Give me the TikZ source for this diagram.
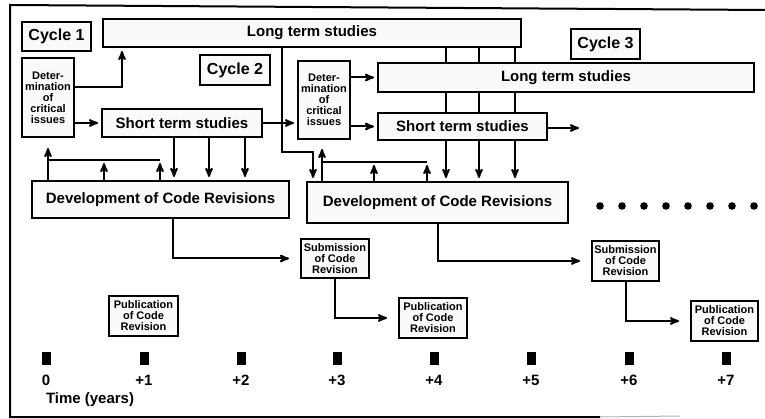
\documentclass[tikz,border=0pt]{standalone}
\usepackage{fontspec}
\setmainfont{Liberation Sans}
\usetikzlibrary{arrows}
\tikzset{
  box/.style={draw, fill=gray!4, inner sep=0pt, align=center},
  cyctxt/.style={font=\fontsize{16}{18}\selectfont\bfseries},
  bigtxt/.style={font=\fontsize{15}{17}\selectfont\bfseries},
  smalltxt/.style={font=\fontsize{11}{11}\selectfont\bfseries},
  arr/.style={-stealth', shorten >=3pt},
  gap/.style={-stealth', shorten >=11pt},
}

\begin{document}
\begin{tikzpicture}[x=1pt, y=-1pt, line width=2pt]
  \useasboundingbox (0,0) rectangle (765,419);
  \draw (765,10) -- (10,5) -- (10,417) -- (600,417);
  \draw[gray!60, line width=1pt] (600,417) -- (680,416);

  \node[box, cyctxt, minimum width=69pt, minimum height=29pt] (cyc1) at (56.5,36.5) {Cycle 1};
  \node[box, cyctxt, minimum width=70pt, minimum height=30pt] (cyc2) at (235,70) {Cycle 2};
  \node[box, cyctxt, minimum width=69pt, minimum height=30pt] (cyc3) at (605.5,44) {Cycle 3};

  \node[box, bigtxt, minimum width=418pt, minimum height=28pt] (lt1) at (312,33) {Long term studies};
  \node[box, bigtxt, minimum width=376pt, minimum height=29pt] (lt2) at (566,77.5) {Long term studies};
  \node[box, smalltxt, minimum width=52pt, minimum height=79pt] (det1) at (48,97.5) {Deter-\\mination\\of\\critical\\issues};
  \node[box, smalltxt, minimum width=52pt, minimum height=78pt] (det2) at (324,100) {Deter-\\mination\\of\\critical\\issues};
  \node[box, bigtxt, minimum width=160pt, minimum height=28pt] (st1) at (182,123) {Short term studies};
  \node[box, bigtxt, minimum width=169pt, minimum height=27pt] (st2) at (462.5,126.5) {Short term studies};
  \node[box, bigtxt, minimum width=257pt, minimum height=37pt] (dev1) at (160.5,199.5) {Development of Code Revisions};
  \node[box, bigtxt, minimum width=261pt, minimum height=41pt] (dev2) at (437.5,202.5) {Development of Code Revisions};

  \node[box, smalltxt, minimum width=68pt, minimum height=39pt] (sub1) at (335,258.5) {Submission\\of Code\\Revision};
  \node[box, smalltxt, minimum width=67pt, minimum height=40pt] (sub2) at (625.5,261) {Submission\\of Code\\Revision};
  \node[box, smalltxt, minimum width=69pt, minimum height=40pt] (pub1) at (143.5,316) {Publication\\of Code\\Revision};
  \node[box, smalltxt, minimum width=68pt, minimum height=40pt] (pub2) at (433,318) {Publication\\of Code\\Revision};
  \node[box, smalltxt, minimum width=67pt, minimum height=40pt] (pub3) at (724.5,321) {Publication\\of Code\\Revision};
  \coordinate (st2out) at (579,128);

  % cycle 1
  \draw[arr] (det1.east |- 0,87) -| (lt1.south -| 122,0);
  \draw[arr] (det1.east |- st1.west) -- (st1.west);
  \draw[arr] (st1.east) -- (det2.west |- st1.east);
  \foreach \x in {174,209,245}
    \draw[arr] (st1.south -| \x,0) -- (dev1.north -| \x,0);
  \draw[-stealth', shorten >=10pt] (dev1.north -| det1) -- (det1.south);
  \draw (det1 |- 0,160) -- (160,160);
  \foreach \x in {104,160}
    \draw[arr] (dev1.north -| \x,0) -- (\x,160);
  \draw[gap] (dev1.south -| 173,0) |- (sub1.west);
  \draw[gap] (sub1.south) |- (pub2.west);

  % cycle 2
  \draw[arr] (lt1.south -| 282,0) |- (313,152) -- (dev2.north -| 313,0);
  \foreach \x in {446,479,515} {
    \draw (lt1.south -| \x,0) -- (lt2.north -| \x,0);
    \draw (lt2.south -| \x,0) -- (st2.north -| \x,0);
    \draw[arr] (st2.south -| \x,0) -- (dev2.north -| \x,0);
  }
  \draw[arr] (det2.east |- lt2.west) -- (lt2.west);
  \draw[arr] (det2.east |- st2.west) -- (st2.west);
  \draw[-stealth'] (st2.east |- st2out) -- (st2out);
  \draw[-stealth', shorten >=9pt] (dev2.north -| 322,0) -- (det2.south -| 322,0);
  \draw (322,162) -- (427,162);
  \foreach \x in {374,427}
    \draw[arr] (dev2.north -| \x,0) -- (\x,162);
  \draw[gap] (dev2.south) |- (sub2.west);
  \draw[gap] (sub2.south) |- (pub3.west);

  % more cycles
  \foreach \x in {600,622,...,755}
    \fill (\x,206) circle (3.8pt);

  % time axis
  \foreach \x/\yr [count=\i] in {46/0,144/+1,241/+2,337/+3,434/+4,531/+5,629/+6,726/+7} {
    \fill (\x-4.5,352) rectangle (\x+4.5,365);
    \node[bigtxt] (yr\i) at (\x,380) {\yr};
  }
  \node[bigtxt, anchor=west, inner sep=0pt] (time) at (45,400) {Time (years)};
\end{tikzpicture}
\end{document}
